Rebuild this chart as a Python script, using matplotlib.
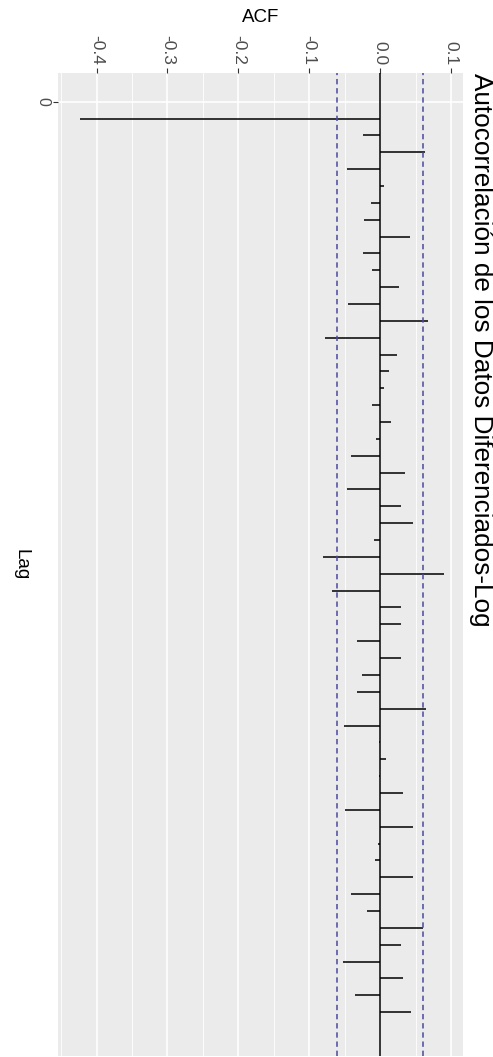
import numpy as np
import matplotlib
matplotlib.use("Agg")
import matplotlib.pyplot as plt

# ==========================
# DATOS
# ==========================

lags = list(range(1, 55))

acf_vals = [
    -0.424, -0.024, 0.063, -0.046, 0.006, -0.0135, -0.022, 0.042, -0.024, -0.012,
    0.026, -0.045, 0.068, -0.078, 0.024, 0.0126, 0.006, -0.012, 0.016, -0.0056,
    -0.0415, 0.035, -0.046, 0.030, 0.047, -0.009, -0.080, 0.090, -0.068, 0.029,
    0.030, -0.033, 0.030, -0.025, -0.033, 0.065, -0.051, -0.002, 0.009, -0.002,
    0.032, -0.050, 0.047, -0.003, -0.007, 0.046, -0.0415, -0.0187, 0.061, 0.030,
    -0.053, 0.032, -0.035, 0.044
]

ci = 0.0605

acf_ticks = [-0.4, -0.3, -0.2, -0.1, 0.0, 0.1]
acf_tick_labels = ["-0.4", "-0.3", "-0.2", "-0.1", "0.0", "0.1"]
acf_minor = [-0.45, -0.35, -0.25, -0.15, -0.05, 0.05]
lag_ticks = [0]
lag_tick_labels = ["0"]

titulo = "Autocorrelación de los Datos Diferenciados-Log"

# ==========================
# FIGURA
# ==========================

plt.rcParams["font.family"] = ["Liberation Sans", "DejaVu Sans"]

W, H = 493, 1057
fig = plt.figure(figsize=(W / 100, H / 100), dpi=100)
fig.patch.set_facecolor("white")

left, right, top, bottom = 58, 463, 73, 1056
ax = fig.add_axes([left / W, 1 - bottom / H, (right - left) / W, (bottom - top) / H])

ax.set_facecolor("#EBEBEB")
for s in ax.spines.values():
    s.set_visible(False)

ax.set_xlim(-0.4545, 0.117)
ax.set_ylim(56.6, -1.7)

# grilla estilo ggplot
for v in acf_minor:
    ax.axvline(v, color="white", lw=0.6, zorder=0.5)
for v in acf_ticks:
    ax.axvline(v, color="white", lw=1.2, zorder=0.6)
for v in lag_ticks:
    ax.axhline(v, color="white", lw=1.2, zorder=0.6)

# segmentos
ax.hlines(lags, 0, acf_vals, color="black", lw=1.1, zorder=2)
ax.axvline(0, color="black", lw=1.1, zorder=2)

# bandas de confianza
ax.axvline(ci, color="#4a4a9e", lw=1.1, ls=(0, (3.5, 2.5)), zorder=3)
ax.axvline(-ci, color="#4a4a9e", lw=1.1, ls=(0, (3.5, 2.5)), zorder=3)

# ejes
ax.xaxis.tick_top()
ax.set_xticks(acf_ticks)
ax.set_xticklabels(acf_tick_labels, rotation=-90, fontsize=12.5, color="#4D4D4D")
ax.set_yticks(lag_ticks)
ax.set_yticklabels(lag_tick_labels, rotation=-90, fontsize=11.5, color="#4D4D4D",
                   va="center")
ax.tick_params(axis="both", length=3.5, width=0.8, color="#333333", pad=2)

fig.text((left + right) / 2 / W, 1 - 17 / H, "ACF", ha="center", va="center",
         fontsize=13.5, color="black")
fig.text(21 / W, 1 - (top + bottom) / 2 / H, "Lag", ha="center", va="center",
         rotation=-90, fontsize=13.5, color="black")
fig.text(481 / W, 1 - top / H, titulo, ha="center", va="top",
         rotation=-90, fontsize=18.8, color="black")

plt.savefig("out.png", dpi=100)
plt.close()
